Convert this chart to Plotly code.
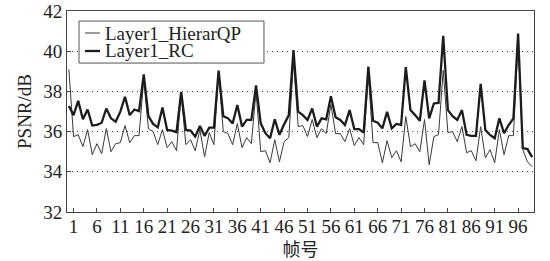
import plotly.graph_objects as go

frames = list(range(0, 100))
hierar_qp = [39.10, 35.75, 35.85, 35.25, 36.10, 34.85, 35.40, 34.90, 36.15, 35.00,
             35.40, 35.45, 36.30, 35.45, 35.80, 35.80, 38.60, 36.15, 36.00, 35.35,
             36.10, 35.20, 35.50, 35.05, 37.85, 35.35, 35.60, 35.05, 36.10, 34.75,
             35.95, 35.35, 38.90, 36.00, 35.90, 35.35, 36.40, 35.20, 35.70, 35.40,
             38.00, 35.00, 35.05, 34.45, 35.60, 34.50, 35.50, 35.70, 39.50, 36.25,
             36.30, 35.75, 36.60, 35.70, 36.15, 35.90, 37.35, 35.90, 35.90, 35.50,
             36.15, 35.30, 35.70, 35.35, 38.80, 35.45, 35.45, 34.45, 35.55, 34.70,
             35.05, 34.50, 36.75, 35.25, 35.40, 35.00, 36.60, 34.35, 35.75, 35.85,
             39.05, 35.95, 36.00, 35.50, 36.25, 34.95, 35.05, 34.55, 36.25, 34.70,
             35.10, 34.45, 36.10, 34.85, 35.80, 35.80, 40.50, 35.10, 34.50, 34.25]
rc = [37.27, 36.82, 37.53, 36.61, 37.10, 36.30, 36.33, 36.44, 37.15, 36.66,
      36.49, 36.99, 37.73, 36.82, 37.10, 37.02, 38.85, 36.77, 36.38, 36.21,
      37.20, 36.08, 36.05, 35.97, 37.97, 36.08, 36.05, 35.75, 36.28, 35.79,
      36.20, 36.20, 39.04, 36.77, 36.66, 36.41, 37.32, 36.25, 36.58, 36.58,
      38.30, 36.41, 35.92, 35.67, 36.61, 35.84, 36.36, 36.82, 40.06, 36.99,
      36.82, 36.58, 37.15, 36.25, 36.66, 36.61, 37.76, 36.71, 36.58, 36.33,
      37.07, 36.12, 36.12, 35.95, 39.24, 36.54, 36.44, 36.16, 36.99, 36.16,
      36.38, 36.33, 39.21, 37.07, 36.82, 36.54, 38.55, 36.66, 37.40, 37.43,
      40.77, 37.07, 36.77, 36.58, 37.07, 35.84, 35.79, 35.79, 38.38, 36.08,
      35.84, 35.67, 36.66, 35.92, 36.33, 36.66, 40.88, 35.18, 35.13, 34.73]
x_ticks = list(range(1, 97, 5))
y_ticks = [32, 34, 36, 38, 40, 42]
series_names = ["Layer1_HierarQP", "Layer1_RC"]
series_colors = ["#3a3a3a", "#1c1c1c"]
series_widths = [1, 2.3]

SERIF = "Liberation Serif, serif"
CJK = "Noto Sans CJK SC"

fig = go.Figure()
for name, ys, col, w in zip(series_names, [hierar_qp, rc], series_colors, series_widths):
    fig.add_trace(go.Scatter(x=frames, y=ys, mode="lines", name=name,
                             line=dict(color=col, width=w), showlegend=False))

# Hand-drawn legend box (paper coordinates) to match the compact reference legend
leg_x0, leg_x1, leg_y0, leg_y1 = 0.0257, 0.4218, 0.741, 0.950
row_y = [0.8905, 0.801]
fig.add_shape(type="rect", xref="paper", yref="paper", x0=leg_x0, x1=leg_x1,
              y0=leg_y0, y1=leg_y1, line=dict(color="#555", width=1), fillcolor="white",
              layer="above")
for name, col, w, ry in zip(series_names, series_colors, series_widths, row_y):
    fig.add_shape(type="line", xref="paper", yref="paper", x0=0.0385, x1=0.0707,
                  y0=ry, y1=ry, line=dict(color=col, width=w), layer="above")
    fig.add_annotation(xref="paper", yref="paper", x=0.0771, y=ry, text=name,
                       showarrow=False, xanchor="left", yanchor="middle",
                       font=dict(family=SERIF, size=19, color="#222"))

fig.update_layout(
    width=550, height=261,
    margin=dict(l=67, r=16, t=11, b=49),
    paper_bgcolor="white", plot_bgcolor="white",
    font=dict(family=SERIF, size=19, color="#222"),
    showlegend=False,
    xaxis=dict(range=[-0.4, 99.4], tickvals=x_ticks, ticktext=[str(t) for t in x_ticks],
               ticks="inside", ticklen=4, tickcolor="#444", showgrid=False,
               showline=True, linecolor="#444", linewidth=1, mirror=True,
               zeroline=False, tickangle=0, automargin=False, ticklabelstandoff=-3,
               tickfont=dict(family=SERIF, size=19),
               title=dict(text="帧号", font=dict(family=CJK, size=18), standoff=0)),
    yaxis=dict(range=[32, 42], tickvals=y_ticks, ticks="inside", ticklen=4, tickcolor="#444",
               showgrid=True, gridcolor="#444", griddash="1px,4px", gridwidth=1,
               showline=True, linecolor="#444", linewidth=1, mirror=True, zeroline=False,
               automargin=False, tickfont=dict(family=SERIF, size=19),
               title=dict(text="PSNR/dB", font=dict(family=SERIF, size=19), standoff=6)),
)

fig.write_html("out.html", config={"displayModeBar": False},
               post_script="document.body.style.margin='0';")
